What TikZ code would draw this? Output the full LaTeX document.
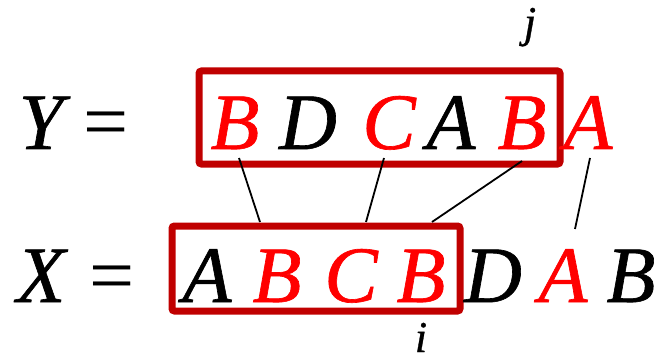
\documentclass[tikz,border=0pt]{standalone}
\usepackage{fontspec}
\setmainfont{Liberation Serif}
\newfontfamily\tnrit{Liberation Serif Italic}[FakeBold=0.8]
\newfontfamily\tnr{Liberation Serif}
\definecolor{boxred}{RGB}{192,0,0}
\definecolor{letred}{RGB}{255,0,0}
\tikzset{
  big/.style={inner sep=0pt, anchor=base, font=\tnrit\fontsize{80}{80}\selectfont},
  bigup/.style={inner sep=0pt, anchor=base, font=\tnr\fontsize{80}{80}\selectfont},
  idx/.style={inner sep=0pt, anchor=base, font=\tnrit\fontsize{44}{44}\selectfont},
  hl/.style={text=letred},
  frame/.style={draw=boxred, line width=7pt, rounded corners=2.5pt},
  link/.style={draw=black, line width=1.8pt}
}
\begin{document}
\begin{tikzpicture}[x=1pt,y=-1pt]
\useasboundingbox (0,0) rectangle (662,361);
% boxes
\draw[frame] (199,71) rectangle (560,164);
\draw[frame] (172,226) rectangle (460,311);
% Y row
\node[big] (Ylab) at (41,149) {Y};
\node[bigup] (Yeq) at (106.5,149) {=};
\node[big,hl] (y1) at (235,149) {B};
\node[big] (y2) at (308,149) {D};
\node[big,hl] (y3) at (389,149) {C};
\node[big] (y4) at (451,149) {A};
\node[big,hl] (y5) at (522,149) {B};
\node[big,hl] (y6) at (588,149) {A};
% X row
\node[big] (Xlab) at (41,302) {X};
\node[bigup] (Xeq) at (112.5,302) {=};
\node[big] (x1) at (207,302) {A};
\node[big,hl] (x2) at (277,302) {B};
\node[big,hl] (x3) at (351,302) {C};
\node[big,hl] (x4) at (421,302) {B};
\node[big] (x5) at (493,302) {D};
\node[big,hl] (x6) at (563,302) {A};
\node[big] (x7) at (631,302) {B};
% indices
\node[idx] (j) at (530,37) {j};
\node[idx] (i) at (421,352) {i};
% connector end points
\coordinate (a1) at (239,158);
\coordinate (b1) at (260,222);
\coordinate (a2) at (384,158);
\coordinate (b2) at (366,222);
\coordinate (a3) at (522,161);
\coordinate (b3) at (432,222);
\coordinate (a4) at (590,158);
\coordinate (b4) at (575,229);
\draw[link] (a1) -- (b1);
\draw[link] (a2) -- (b2);
\draw[link] (a3) -- (b3);
\draw[link] (a4) -- (b4);
\end{tikzpicture}
\end{document}
